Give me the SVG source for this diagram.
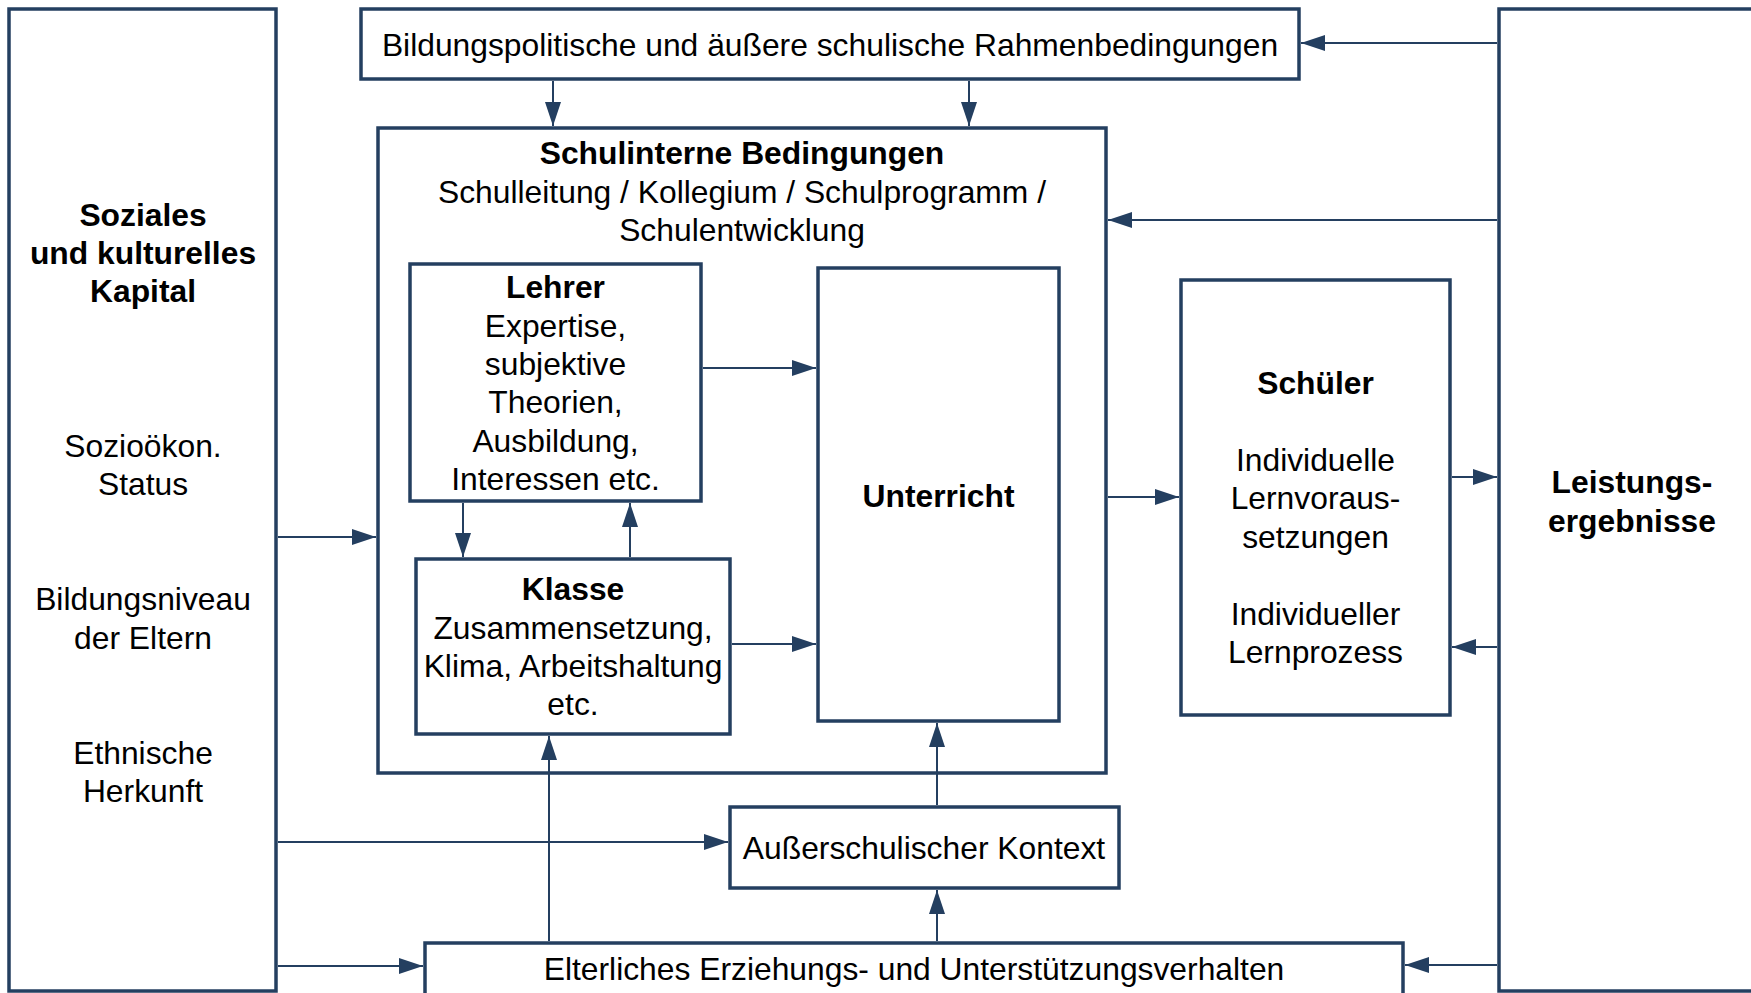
<svg xmlns="http://www.w3.org/2000/svg" width="1751" height="993" viewBox="0 0 1751 993">
<style>
.box{fill:#fff;stroke:#243F60;stroke-width:3.5}
.c{fill:none;stroke:#243F60;stroke-width:2}
text{font-family:"Liberation Sans",Arial,sans-serif;font-size:31.8px;fill:#000;text-anchor:middle}
.b{font-weight:bold}
</style>
<defs>
<marker id="ah" markerUnits="userSpaceOnUse" markerWidth="24" markerHeight="16" refX="24" refY="8" orient="auto">
<path d="M0,0 L24,8 L0,16 z" fill="#243F60"/>
</marker>
</defs>
<rect width="1751" height="993" fill="#fff"/>
<g id="soziales">
<rect class="box" x="9" y="9" width="267" height="982"/>
<text class="b" x="143" y="226">Soziales</text>
<text class="b" x="143" y="264">und kulturelles</text>
<text class="b" x="143" y="302">Kapital</text>
<text x="143" y="457">Sozioökon.</text>
<text x="143" y="495">Status</text>
<text x="143" y="610">Bildungsniveau</text>
<text x="143" y="649">der Eltern</text>
<text x="143" y="764">Ethnische</text>
<text x="143" y="802">Herkunft</text>
</g>
<g id="leistung">
<rect class="box" x="1499" y="9" width="280" height="982"/>
<text class="b" x="1632" y="493">Leistungs-</text>
<text class="b" x="1632" y="532">ergebnisse</text>
</g>
<g id="rahmen">
<rect class="box" x="361" y="9" width="938" height="70"/>
<text x="830" y="55.5">Bildungspolitische und äußere schulische Rahmenbedingungen</text>
</g>
<g id="schulintern">
<rect class="box" x="378" y="128" width="728" height="645"/>
<text class="b" x="742" y="164">Schulinterne Bedingungen</text>
<text x="742" y="203">Schulleitung / Kollegium / Schulprogramm /</text>
<text x="742" y="241">Schulentwicklung</text>
</g>
<g id="lehrer">
<rect class="box" x="410" y="264" width="291" height="237"/>
<text class="b" x="555.5" y="298">Lehrer</text>
<text x="555.5" y="336.5">Expertise,</text>
<text x="555.5" y="374.5">subjektive</text>
<text x="555.5" y="413">Theorien,</text>
<text x="555.5" y="451.5">Ausbildung,</text>
<text x="555.5" y="489.5">Interessen etc.</text>
</g>
<g id="klasse">
<rect class="box" x="416" y="559" width="314" height="175"/>
<text class="b" x="573" y="600">Klasse</text>
<text x="573" y="638.5">Zusammensetzung,</text>
<text x="573" y="676.5">Klima, Arbeitshaltung</text>
<text x="573" y="715">etc.</text>
</g>
<g id="unterricht">
<rect class="box" x="818" y="268" width="241" height="453"/>
<text class="b" x="938.5" y="507">Unterricht</text>
</g>
<g id="schueler">
<rect class="box" x="1181" y="280" width="269" height="435"/>
<text class="b" x="1315.5" y="394">Schüler</text>
<text x="1315.5" y="471">Individuelle</text>
<text x="1315.5" y="509">Lernvoraus-</text>
<text x="1315.5" y="547.5">setzungen</text>
<text x="1315.5" y="625">Individueller</text>
<text x="1315.5" y="663">Lernprozess</text>
</g>
<g id="ausserschulisch">
<rect class="box" x="730" y="807" width="389" height="81"/>
<text x="924" y="859">Außerschulischer Kontext</text>
</g>
<g id="elterlich">
<rect class="box" x="425" y="943" width="978" height="70"/>
<text x="914" y="980">Elterliches Erziehungs- und Unterstützungsverhalten</text>
</g>
<g id="connectors">
<line class="c" x1="553" y1="81" x2="553" y2="126" marker-end="url(#ah)"/>
<line class="c" x1="969" y1="81" x2="969" y2="126" marker-end="url(#ah)"/>
<line class="c" x1="1497" y1="43" x2="1301" y2="43" marker-end="url(#ah)"/>
<line class="c" x1="1497" y1="220" x2="1108" y2="220" marker-end="url(#ah)"/>
<line class="c" x1="278" y1="537" x2="376" y2="537" marker-end="url(#ah)"/>
<line class="c" x1="703" y1="368" x2="816" y2="368" marker-end="url(#ah)"/>
<line class="c" x1="463" y1="503" x2="463" y2="557" marker-end="url(#ah)"/>
<line class="c" x1="630" y1="557" x2="630" y2="503" marker-end="url(#ah)"/>
<line class="c" x1="732" y1="644" x2="816" y2="644" marker-end="url(#ah)"/>
<line class="c" x1="1108" y1="497" x2="1179" y2="497" marker-end="url(#ah)"/>
<line class="c" x1="1452" y1="477" x2="1497" y2="477" marker-end="url(#ah)"/>
<line class="c" x1="1497" y1="647" x2="1452" y2="647" marker-end="url(#ah)"/>
<line class="c" x1="937" y1="805" x2="937" y2="723" marker-end="url(#ah)"/>
<line class="c" x1="937" y1="941" x2="937" y2="890" marker-end="url(#ah)"/>
<line class="c" x1="549" y1="941" x2="549" y2="736" marker-end="url(#ah)"/>
<line class="c" x1="278" y1="842" x2="728" y2="842" marker-end="url(#ah)"/>
<line class="c" x1="278" y1="966" x2="423" y2="966" marker-end="url(#ah)"/>
<line class="c" x1="1497" y1="965" x2="1405" y2="965" marker-end="url(#ah)"/>
</g>
</svg>
